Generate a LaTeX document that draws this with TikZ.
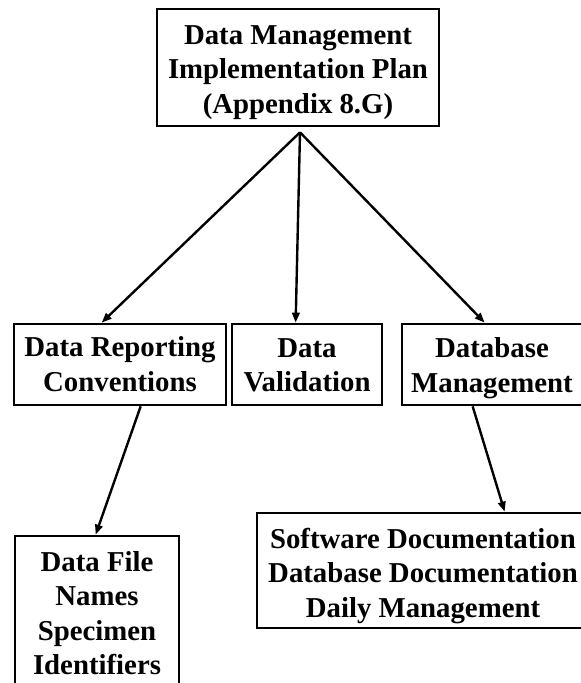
\documentclass[tikz,border=0pt]{standalone}
\usepackage{fontspec}
\setmainfont{Liberation Serif}
\usetikzlibrary{arrows.meta,calc}
\begin{document}
\begin{tikzpicture}[x=1pt,y=-1pt,
  boxnode/.style={draw=black,line width=2.7pt,inner sep=0pt,minimum width=#1},
  txt/.style={inner sep=0pt,align=center,font=\fontsize{28.8}{34.5}\selectfont\bfseries},
  conn/.style={line width=2.4pt,-{Triangle[length=10pt,width=7.5pt]}}
]
\useasboundingbox (0,0) rectangle (581,683);
\clip (0,0) rectangle (581,683);
\fill[white] (0,0) rectangle (581,683);
% boxes
\node[boxnode=282pt,minimum height=117pt] (top) at (298,67.5) {};
\node[boxnode=212pt,minimum height=81pt] (drc) at (120,364.5) {};
\node[boxnode=150pt,minimum height=81pt] (dv) at (307,364.5) {};
\node[boxnode=190pt,minimum height=81pt] (dbm) at (497,364.5) {};
\node[boxnode=164pt,minimum height=184pt] (dfn) at (97,628) {};
\node[boxnode=340pt,minimum height=115pt] (sdd) at (427,570.5) {};
% texts
\node[txt] (ttop) at (298,72.5) {Data Management\\Implementation Plan\\(Appendix 8.G)};
\node[txt] (tdrc) at (120,364) {Data Reporting\\Conventions};
\node[txt] (tdv) at (307,365.5) {Data\\Validation};
\node[txt] (tdbm) at (492,368) {Database\\Management};
\node[txt] (tdfn) at (97,613) {Data File\\Names\\Specimen\\Identifiers};
\node[txt] (tsdd) at (423,576) {Software Documentation\\Database Documentation\\Daily Management};
% connectors
\coordinate (apex) at ($(top.south)+(2,5)$);
\draw[conn] (apex) -- ($(drc.north west)+(89,0)$);
\draw[conn] (apex) -- ($(dv.north west)+(65,0)$);
\draw[conn] (apex) -- ($(dbm.north west)+(84,0)$);
\draw[conn] ($(drc.south west)+(128,0)$) -- ($(dfn.north west)+(82,0)$);
\draw[conn] ($(dbm.south west)+(72,0)$) -- ($(sdd.north west)+(249,0)$);
\end{tikzpicture}
\end{document}
